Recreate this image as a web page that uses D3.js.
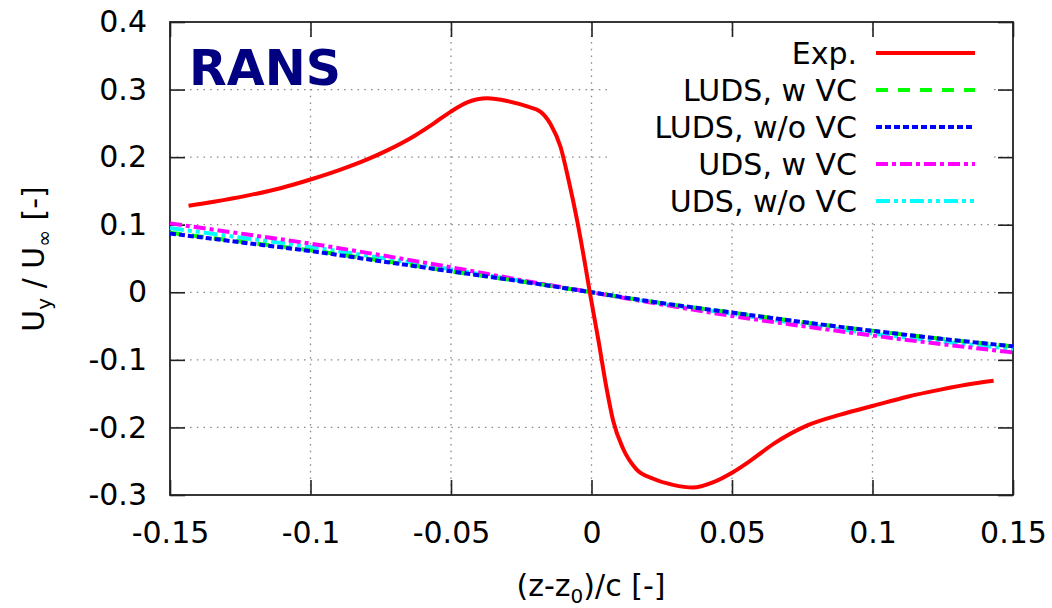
<!DOCTYPE html>
<html>
<head>
<meta charset="utf-8">
<script src="https://cdn.jsdelivr.net/npm/d3@7"></script>
<style>
html,body{margin:0;padding:0;background:#fff;}
svg{display:block;}
text{font-family:"DejaVu Sans",sans-serif;}
</style>
</head>
<body>
<svg id="chart" width="1052" height="608"></svg>
<script>
// ---- data ----
const xTicks = [-0.15, -0.1, -0.05, 0, 0.05, 0.1, 0.15];
const xTickLabels = ["-0.15", "-0.1", "-0.05", "0", "0.05", "0.1", "0.15"];
const yTicks = [-0.3, -0.2, -0.1, 0, 0.1, 0.2, 0.3, 0.4];
const yTickLabels = ["-0.3", "-0.2", "-0.1", "0", "0.1", "0.2", "0.3", "0.4"];

const expX = [-0.1434, -0.1344, -0.1226, -0.1107, -0.1003, -0.0893, -0.0798, -0.0727, -0.0632, -0.0561, -0.0502, -0.0442, -0.0371, -0.030, -0.0229, -0.0181, -0.0146, -0.011, -0.0081, -0.0051, -0.0021, -0.0006, 0.0025, 0.0054, 0.0077, 0.0113, 0.016, 0.022, 0.029, 0.036, 0.0434, 0.05, 0.0566, 0.0649, 0.0768, 0.0886, 0.1003, 0.1124, 0.1242, 0.136, 0.1431];
const expY = [0.128, 0.134, 0.143, 0.154, 0.1665, 0.1815, 0.1966, 0.210, 0.231, 0.250, 0.267, 0.281, 0.287, 0.283, 0.275, 0.267, 0.249, 0.215, 0.165, 0.106, 0.037, 0.0, -0.072, -0.143, -0.190, -0.232, -0.262, -0.276, -0.285, -0.289, -0.281, -0.267, -0.249, -0.224, -0.197, -0.181, -0.168, -0.1545, -0.144, -0.135, -0.131];

const simX = [-0.15, -0.125, -0.1, -0.075, -0.05, -0.025, 0, 0.025, 0.05, 0.075, 0.1, 0.125, 0.15];
const ludsWVC  = [0.088, 0.075, 0.062, 0.047, 0.031, 0.016, 0, -0.016, -0.030, -0.044, -0.057, -0.069, -0.080];
const ludsWoVC = [0.087, 0.074, 0.061, 0.046, 0.031, 0.016, 0, -0.016, -0.030, -0.044, -0.057, -0.069, -0.080];
const udsWVC   = [0.102, 0.087, 0.072, 0.055, 0.037, 0.018, 0, -0.018, -0.035, -0.050, -0.064, -0.077, -0.089];
const udsWoVC  = [0.095, 0.081, 0.067, 0.051, 0.034, 0.017, 0, -0.017, -0.032, -0.047, -0.061, -0.073, -0.084];

const seriesNames = ["Exp.", "LUDS, w VC", "LUDS, w/o VC", "UDS, w VC", "UDS, w/o VC"];
const seriesColors = ["#ff0000", "#00ff00", "#0000ff", "#ff00ff", "#00ffff"];
const seriesDash = [null, "12,10", "6,3", "12,4,4,4", "14,4,4,4,4,4"];

// ---- layout ----
const svg = d3.select("#chart");
const L = 170, R = 1013, T = 22, B = 495;
const x = d3.scaleLinear().domain([-0.15, 0.15]).range([L, R]);
const y = d3.scaleLinear().domain([-0.3, 0.4]).range([B, T]);

// grid
const grid = svg.append("g");
xTicks.slice(1, -1).forEach(v => {
  grid.append("line").attr("x1", x(v)).attr("x2", x(v)).attr("y1", T).attr("y2", B)
    .attr("stroke", "#888").attr("stroke-width", 1.3).attr("stroke-dasharray", "1.5,5.2");
});
yTicks.slice(1, -1).forEach(v => {
  grid.append("line").attr("x1", L).attr("x2", R).attr("y1", y(v)).attr("y2", y(v))
    .attr("stroke", "#888").attr("stroke-width", 1.3).attr("stroke-dasharray", "1.5,5.2");
});

// white boxes behind labels
svg.append("rect").attr("x", 612).attr("y", 36).attr("width", 380).attr("height", 184).attr("fill", "#fff");
svg.append("rect").attr("x", 186).attr("y", 42).attr("width", 152).attr("height", 45).attr("fill", "#fff");

// axes
const tickLen = 15;
const axB = svg.append("g").attr("transform", `translate(0,${B})`)
  .call(d3.axisBottom(x).tickValues(xTicks).tickFormat((d, i) => xTickLabels[i]).tickSizeInner(-tickLen).tickSizeOuter(0).tickPadding(27));
const axT = svg.append("g").attr("transform", `translate(0,${T})`)
  .call(d3.axisTop(x).tickValues(xTicks).tickFormat("").tickSizeInner(-tickLen).tickSizeOuter(0));
const axL = svg.append("g").attr("transform", `translate(${L},0)`)
  .call(d3.axisLeft(y).tickValues(yTicks).tickFormat((d, i) => yTickLabels[i]).tickSizeInner(-tickLen).tickSizeOuter(0).tickPadding(23));
const axR = svg.append("g").attr("transform", `translate(${R},0)`)
  .call(d3.axisRight(y).tickValues(yTicks).tickFormat("").tickSizeInner(-tickLen).tickSizeOuter(0));
[axB, axT, axL, axR].forEach(a => {
  a.selectAll(".domain").remove();
  a.selectAll(".tick line").attr("stroke", "#222").attr("stroke-width", 1.6);
  a.selectAll(".tick text").attr("font-family", "DejaVu Sans").attr("font-size", 30).attr("fill", "#000");
});
svg.append("rect").attr("x", L).attr("y", T).attr("width", R - L).attr("height", B - T)
  .attr("fill", "none").attr("stroke", "#222").attr("stroke-width", 1.8);

// lines
const simSeries = [ludsWVC, ludsWoVC, udsWVC, udsWoVC];
const simLine = d3.line().x(d => x(d[0])).y(d => y(d[1])).curve(d3.curveMonotoneX);
const expLine = d3.line().x(d => x(d[0])).y(d => y(d[1])).curve(d3.curveMonotoneX);
const plot = svg.append("g");
[3, 2, 0, 1].forEach(k => {
  const vals = simSeries[k];
  plot.append("path").datum(simX.map((v, i) => [v, vals[i]]))
    .attr("d", simLine)
    .attr("fill", "none").attr("stroke", seriesColors[k + 1]).attr("stroke-width", 4)
    .attr("stroke-dasharray", seriesDash[k + 1]);
});
plot.append("path").datum(expX.map((v, i) => [v, expY[i]]))
  .attr("d", expLine).attr("fill", "none").attr("stroke", seriesColors[0]).attr("stroke-width", 4)
  .attr("stroke-linejoin", "round");

// legend
const leg = svg.append("g");
const legY0 = 53, legDy = 37;
seriesNames.forEach((n, i) => {
  const yy = legY0 + i * legDy;
  leg.append("text").attr("x", 857).attr("y", yy).attr("dy", "0.36em").attr("text-anchor", "end")
    .attr("font-size", 30).attr("fill", "#000").text(n);
  leg.append("line").attr("x1", 876).attr("x2", 975).attr("y1", yy).attr("y2", yy)
    .attr("stroke", seriesColors[i]).attr("stroke-width", 4).attr("stroke-dasharray", seriesDash[i]);
});

// RANS label
svg.append("text").attr("x", 189).attr("y", 85).attr("font-family", "Liberation Sans, Arial, sans-serif")
  .attr("font-weight", "bold").attr("font-size", 49).attr("fill", "#000080").text("RANS");

// axis titles
const xt = svg.append("text").attr("x", 591).attr("y", 596).attr("text-anchor", "middle").attr("font-size", 30).attr("fill", "#000");
xt.append("tspan").text("(z-z");
xt.append("tspan").attr("font-size", 20).attr("dy", 7).text("0");
xt.append("tspan").attr("dy", -7).text(")/c [-]");

const yt = svg.append("text").attr("transform", "translate(44,259) rotate(-90)").attr("text-anchor", "middle").attr("font-size", 30).attr("fill", "#000");
yt.append("tspan").text("U");
yt.append("tspan").attr("font-size", 20).attr("dy", 7).text("y");
yt.append("tspan").attr("dy", -7).text(" / U");
yt.append("tspan").attr("font-size", 20).attr("dy", 7).text("∞");
yt.append("tspan").attr("dy", -7).text(" [-]");
</script>
</body>
</html>
